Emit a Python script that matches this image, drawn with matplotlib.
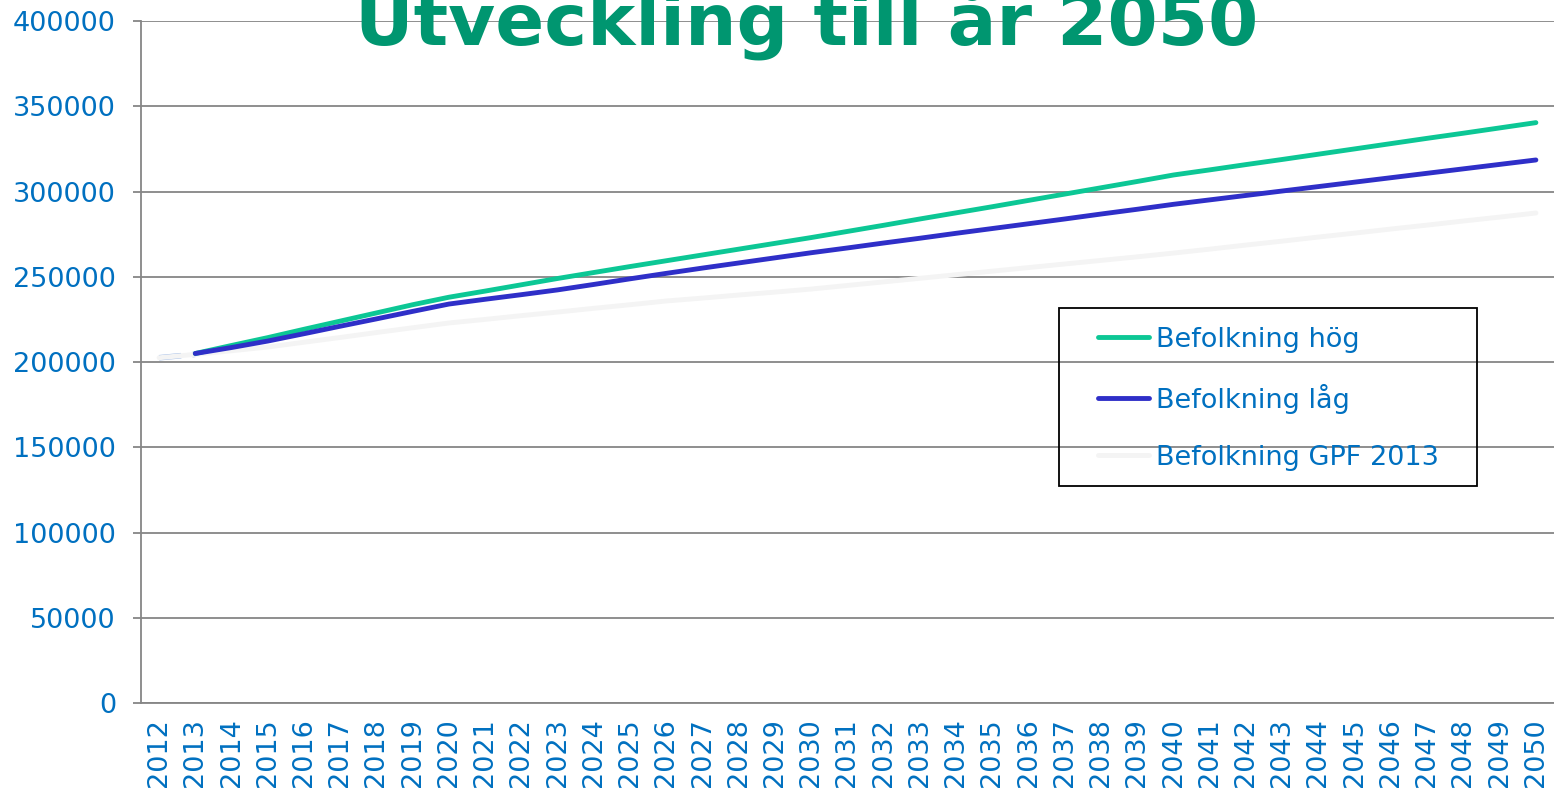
import matplotlib.pyplot as plt
from matplotlib.patches import Rectangle

# Data
years = list(range(2012, 2051))

befolkning_hog = [
    None, 205000, 209700, 214300, 219200, 224000, 228800, 233600, 238000,
    241600, 245300, 249000, 252500, 256000, 259400, 262800, 266200, 269600,
    273000, 276600, 280200, 283900, 287500, 291100, 294800, 298500, 302200,
    305900, 309700, 312700, 315800, 318800, 321900, 325000, 328100, 331200,
    334200, 337300, 340400,
]
befolkning_lag = [
    None, 205000, 208500, 212300, 216600, 221000, 225300, 229700, 234000,
    236800, 239500, 242300, 245500, 248800, 252000, 255100, 258100, 261100,
    264100, 266900, 269800, 272600, 275500, 278300, 281100, 283900, 286800,
    289600, 292500, 295100, 297700, 300300, 302900, 305500, 308100, 310700,
    313300, 315900, 318500,
]
befolkning_gpf = [
    202500, 204500, 206600, 208800, 211600, 214400, 217300, 220100, 222900,
    225000, 227200, 229300, 231500, 233600, 235800, 237500, 239300, 241000,
    242800, 244900, 247000, 249100, 251200, 253300, 255400, 257500, 259600,
    261700, 263900, 266200, 268600, 270900, 273300, 275600, 278000, 280300,
    282700, 285000, 287400,
]

labels = ["Befolkning hög", "Befolkning låg", "Befolkning GPF 2013"]
yticks = list(range(0, 400001, 50000))

text_blue = "#0070c0"
grid_grey = "#868686"
fsize = 19.5

fig = plt.figure(figsize=(15.54, 7.9), dpi=100)
ax = fig.add_axes([0.0907, 0.1101, 0.9093, 0.8633])

def to_xy(vals):
    pts = [(y, v) for y, v in zip(years, vals) if v is not None]
    return [p[0] for p in pts], [p[1] for p in pts]

x, y = to_xy(befolkning_hog)
ax.plot(x, y, color="#0cc795", lw=3.5, solid_capstyle="round", label=labels[0], zorder=4)
x, y = to_xy(befolkning_lag)
ax.plot(x, y, color="#2f2fc8", lw=3.5, solid_capstyle="round", label=labels[1], zorder=4)
x, y = to_xy(befolkning_gpf)
ax.plot(x[:2], y[:2], color="#9db9e6", lw=4, ls=(0, (4, 2)), zorder=2)
ax.plot(x, y, color="#f4f4f4", lw=3.5, solid_capstyle="round", label=labels[2], zorder=3)

ax.set_xlim(2011.5, 2050.5)
ax.set_ylim(0, 400000)
ax.set_yticks(yticks)
ax.set_yticklabels([str(t) for t in yticks])
ax.set_xticks(years)
ax.set_xticklabels([str(y) for y in years], rotation=90)

ax.grid(axis="y", color=grid_grey, lw=1.3, zorder=1)
ax.set_axisbelow(True)
for s in ["top", "right"]:
    ax.spines[s].set_visible(False)
for s in ["left", "bottom"]:
    ax.spines[s].set_color(grid_grey)
    ax.spines[s].set_linewidth(1.3)

ax.tick_params(axis="y", colors=grid_grey, labelcolor=text_blue, labelsize=fsize,
               length=6, width=1.3, pad=12)
ax.tick_params(axis="x", labelcolor=text_blue, labelsize=fsize, length=0, pad=11)

# legend without its own frame, box drawn separately (Excel style)
leg = ax.legend(loc="upper left", bbox_to_anchor=(0.677, 0.552), fontsize=fsize,
                frameon=False, handlelength=1.9, handletextpad=0.25,
                labelspacing=1.15, borderpad=0, borderaxespad=0)
for t in leg.get_texts():
    t.set_color(text_blue)
for h in leg.legend_handles:
    h.set_linewidth(3.5)
ax.add_patch(Rectangle((0.650, 0.318), 0.2955, 0.261, transform=ax.transAxes,
                       fill=False, edgecolor="black", lw=1.3, zorder=5))

fig.text(0.519, 1 - 44 / 790, "Utveckling till år 2050", ha="center", va="baseline",
         fontsize=52, fontweight="bold", color="#009670")

fig.savefig("out.png", dpi=100)
